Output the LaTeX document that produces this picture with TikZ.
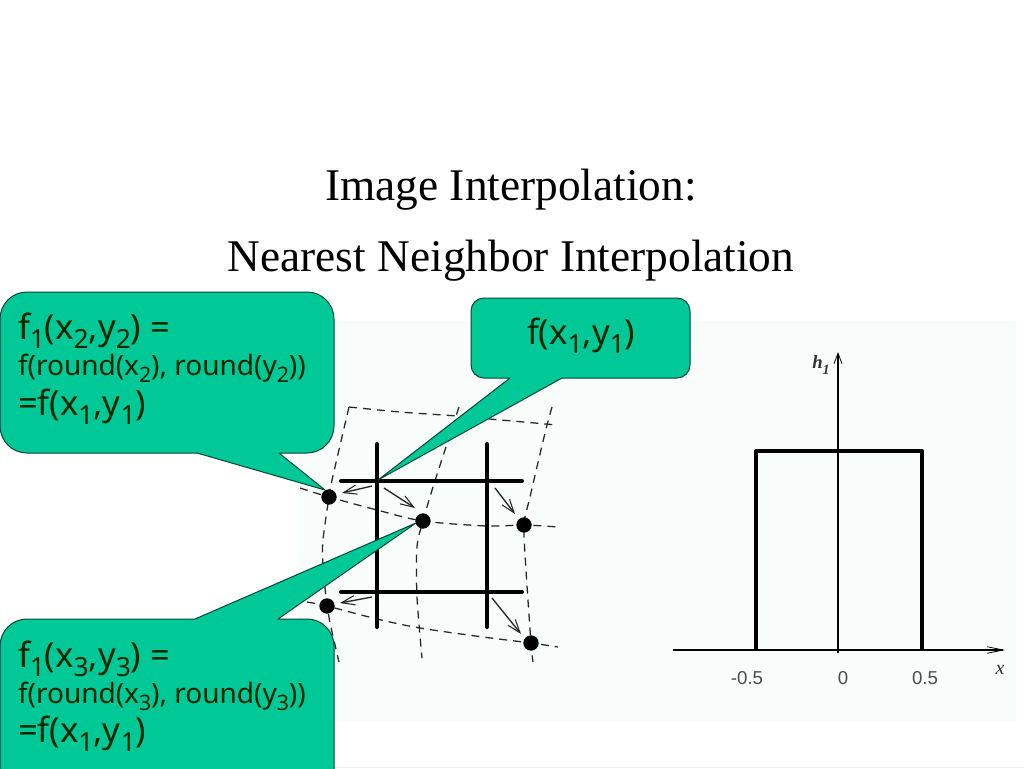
\documentclass[tikz,border=0pt]{standalone}
\usepackage{fontspec}
\setmainfont{Liberation Serif}
\newfontfamily\callfont{Noto Sans}
\newfontfamily\plotfont{Liberation Sans}
\usetikzlibrary{arrows.meta}
\definecolor{calloutfill}{HTML}{00C896}
\definecolor{calloutedge}{HTML}{04443A}
\definecolor{paneltint}{HTML}{F8FCFA}
\newcommand{\lowr}[1]{\raisebox{-0.28em}{\scalebox{0.76}{#1}}}
\newcommand{\callbig}{\callfont\fontsize{26pt}{30pt}\selectfont}
\newcommand{\callsmall}{\callfont\fontsize{21pt}{25pt}\selectfont}
\tikzset{
  x=0.75pt,y=-0.75pt,
  callout/.style={fill=calloutfill,draw=calloutedge,line width=0.75pt,line join=round},
  calltext/.style={anchor=base west,inner sep=0pt,outer sep=0pt,text=black!85!green},
  titletext/.style={anchor=base,inner sep=0pt,font=\fontsize{34pt}{40pt}\selectfont},
  gridline/.style={line width=3pt,line cap=round,draw=black},
  warpline/.style={dash pattern=on 6pt off 4.5pt,line width=0.95pt,draw=black!85},
  shift arrow/.style={line width=1pt,draw=black!85,-{Straight Barb[length=10pt,width=7pt,line width=0.8pt]}},
  sample/.style={circle,fill=black,inner sep=0pt,minimum size=11.5pt},
  axisline/.style={line width=0.8pt,draw=black},
  boxline/.style={line width=3pt,draw=black,line join=round},
  ticktext/.style={inner sep=0pt,font=\plotfont\fontsize{14pt}{16pt}\selectfont,text=black!70},
}
\begin{document}
\begin{tikzpicture}
\useasboundingbox (0,0) rectangle (1024,768);
\clip (0,0) rectangle (1024,768);
\fill[white] (0,0) rectangle (1024,768);
\fill[black!7] (0,767) rectangle (1024,768);
\fill[paneltint] (298,321) rectangle (1016,721);

% titles
\node[titletext] (title1) at (511,200) {Image Interpolation:};
\node[titletext] (title2) at (511,271) {Nearest Neighbor Interpolation};

% warped grid
\draw[warpline] plot[smooth] coordinates {(349,407) (400,412) (457,416) (490,419) (557,425)};
\draw[warpline] plot[smooth] coordinates {(300,488) (329,497) (377,510) (423,521) (487,526) (524,525) (558,527)};
\draw[warpline] plot[smooth] coordinates {(307,602) (327,606) (377,619) (420,628) (483,637) (531,643) (558,647)};
\draw[warpline] plot[smooth] coordinates {(349,407) (332,480) (329,497) (323,540) (323,565) (327,606) (330,623) (339,662)};
\draw[warpline] plot[smooth] coordinates {(459,407) (445,450) (433,487) (423,521) (417,547) (417,597) (422,658)};
\draw[warpline] plot[smooth] coordinates {(552,407) (545,433) (530,497) (524,525) (526,570) (531,643) (533,662)};

% thick grid
\draw[gridline] (377,444) -- (377,627);
\draw[gridline] (487,444) -- (487,627);
\draw[gridline] (341,481) -- (522,481);
\draw[gridline] (341,592) -- (522,592);

% displacement arrows
\draw[shift arrow] (372,486) -- (342,493);
\draw[shift arrow] (384,488) -- (415,508);
\draw[shift arrow] (495,488) -- (515,514);
\draw[shift arrow] (372,597) -- (340,603);
\draw[shift arrow] (492,598) -- (521,634);

% samples
\node[sample] (s1) at (329,497) {};
\node[sample] (s2) at (423,521) {};
\node[sample] (s3) at (524,525) {};
\node[sample] (s4) at (327,606) {};
\node[sample] (s5) at (531,643) {};

% callouts
\draw[callout] (27,292) -- (307,292) arc[start angle=90,end angle=0,radius=27pt*0.75] -- (334,426)
  arc[start angle=0,end angle=-90,radius=27pt*0.75] -- (279,453) -- (325,490) -- (197,453) -- (27,453)
  arc[start angle=-90,end angle=-180,radius=27pt*0.75] -- (0,319) arc[start angle=180,end angle=90,radius=27pt*0.75] -- cycle;
\draw[callout] (484,298) -- (677,298) arc[start angle=90,end angle=0,radius=13pt*0.75] -- (690,365)
  arc[start angle=0,end angle=-90,radius=13pt*0.75] -- (562,378) -- (378,480) -- (510,378) -- (484,378)
  arc[start angle=-90,end angle=-180,radius=13pt*0.75] -- (471,311) arc[start angle=180,end angle=90,radius=13pt*0.75] -- cycle;
\draw[callout] (27,619) -- (195,619) -- (416,523) -- (278,619) -- (307,619) arc[start angle=90,end angle=0,radius=27pt*0.75] -- (334,790)
  -- (0,790) -- (0,646) arc[start angle=180,end angle=90,radius=27pt*0.75] -- cycle;

\node[calltext,font=\callbig] (a1) at (18,339) {f\lowr{1}(x\lowr{2},y\lowr{2}) =};
\node[calltext,font=\callsmall] (a2) at (18,375) {f(round(x\lowr{2}), round(y\lowr{2}))};
\node[calltext,font=\callbig] (a3) at (18,415) {=f(x\lowr{1},y\lowr{1})};
\node[calltext,font=\callbig] (b1) at (527,344) {f(x\lowr{1},y\lowr{1})};
\node[calltext,font=\callbig] (c1) at (18,667) {f\lowr{1}(x\lowr{3},y\lowr{3}) =};
\node[calltext,font=\callsmall] (c2) at (18,703) {f(round(x\lowr{3}), round(y\lowr{3}))};
\node[calltext,font=\callbig] (c3) at (18,742) {=f(x\lowr{1},y\lowr{1})};

% kernel plot
\coordinate (ytop) at (838,352);
\coordinate (ybot) at (838,653);
\coordinate (xleft) at (673,650);
\coordinate (xright) at (1005,650);
\draw[axisline,-{Straight Barb[length=8pt,width=6pt,line width=0.6pt]}] (ybot) -- (ytop);
\draw[axisline,-{Straight Barb[length=12pt,width=5pt,line width=0.6pt]}] (xleft) -- (xright);
\draw[boxline] (756,650) -- (756,451) -- (922,451) -- (922,650);
\node[ticktext] (t1) at (747,678) {-0.5};
\node[ticktext] (t2) at (843,678) {0};
\node[ticktext] (t3) at (925,678) {0.5};
\node[inner sep=0pt,font=\itshape\fontsize{15pt}{17pt}\selectfont,text=black!80] (xl) at (1000,670) {x};
\node[inner sep=0pt,font=\bfseries\itshape\fontsize{14pt}{16pt}\selectfont,text=black!80] (yl) at (821,365) {h\lowr{1}};
\end{tikzpicture}
\end{document}
